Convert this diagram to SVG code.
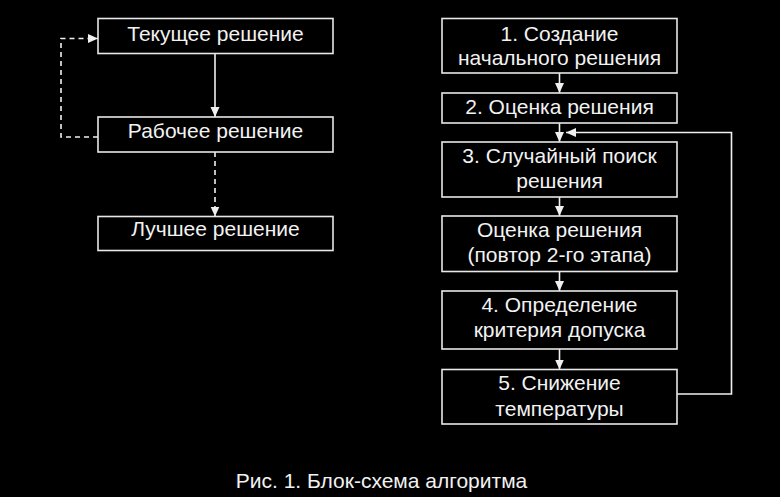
<svg xmlns="http://www.w3.org/2000/svg" width="780" height="497" viewBox="0 0 780 497">
<style>
.box{fill:#000;stroke:#e8e8e8;stroke-width:1.6}
.t{font-family:"Liberation Sans",Arial,sans-serif;font-size:21px;fill:#f2f2f2;text-anchor:middle}
.ln{fill:none;stroke:#f0f0f0;stroke-width:1.6}
.dash{stroke-dasharray:5,4}
</style>
<defs>
<marker id="ah" markerWidth="10" markerHeight="10" refX="10" refY="5" orient="auto" markerUnits="userSpaceOnUse" viewBox="0 0 10 10">
<path d="M0,0.5 L10,5 L0,9.5 Z" fill="#f0f0f0"/>
</marker>
</defs>
<rect width="780" height="497" fill="#000"/>
<g id="connectors">
<line class="ln" x1="215" y1="53" x2="215" y2="117" marker-end="url(#ah)"/>
<line class="ln dash" x1="215" y1="152" x2="215" y2="216.5" marker-end="url(#ah)"/>
<polyline class="ln dash" points="98,137 61,137 61,38.5 98,38.5" marker-end="url(#ah)"/>
<line class="ln" x1="559.5" y1="73" x2="559.5" y2="93" marker-end="url(#ah)"/>
<line class="ln" x1="559.5" y1="123" x2="559.5" y2="142" marker-end="url(#ah)"/>
<line class="ln" x1="559.5" y1="197" x2="559.5" y2="216" marker-end="url(#ah)"/>
<line class="ln" x1="559.5" y1="271.5" x2="559.5" y2="291" marker-end="url(#ah)"/>
<line class="ln" x1="559.5" y1="349" x2="559.5" y2="369.5" marker-end="url(#ah)"/>
<polyline class="ln" points="677,394 731.5,394 731.5,132.5 566,132.5" marker-end="url(#ah)"/>
</g>
<g id="n-current"><rect class="box" x="98" y="18.5" width="235" height="35"/><text class="t" x="215.5" y="41">Текущее решение</text></g>
<g id="n-working"><rect class="box" x="98" y="117" width="235" height="35"/><text class="t" x="215.5" y="138">Рабочее решение</text></g>
<g id="n-best"><rect class="box" x="98" y="216.5" width="235" height="34"/><text class="t" x="215.5" y="236">Лучшее решение</text></g>
<g id="n-1"><rect class="box" x="442" y="18.5" width="235" height="54.5"/><text class="t" x="559.5" y="40.5">1. Создание</text><text class="t" x="559.5" y="65">начального решения</text></g>
<g id="n-2"><rect class="box" x="442" y="93" width="235" height="30"/><text class="t" x="559.5" y="114">2. Оценка решения</text></g>
<g id="n-3"><rect class="box" x="442" y="142" width="235" height="55"/><text class="t" x="559.5" y="163">3. Случайный поиск</text><text class="t" x="559.5" y="188">решения</text></g>
<g id="n-eval"><rect class="box" x="442" y="216" width="235" height="55.5"/><text class="t" x="559.5" y="237">Оценка решения</text><text class="t" x="559.5" y="262">(повтор 2-го этапа)</text></g>
<g id="n-4"><rect class="box" x="442" y="291" width="235" height="58"/><text class="t" x="559.5" y="311.5">4. Определение</text><text class="t" x="559.5" y="337">критерия допуска</text></g>
<g id="n-5"><rect class="box" x="442" y="369.5" width="235" height="54.5"/><text class="t" x="559.5" y="390">5. Снижение</text><text class="t" x="559.5" y="415.5">температуры</text></g>
<text class="t" x="381.5" y="488">Рис. 1. Блок-схема алгоритма</text>
</svg>
